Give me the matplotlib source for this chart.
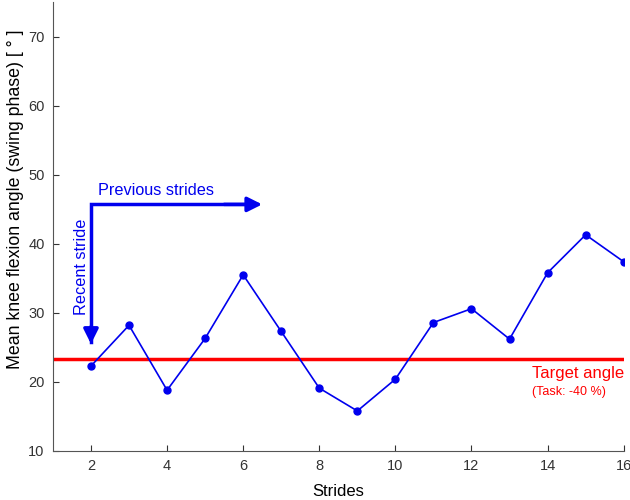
import numpy as np
import matplotlib.pyplot as plt

plt.rcParams['font.family'] = ['Liberation Sans', 'DejaVu Sans']

# data
strides = np.arange(2, 17)
angle = [22.3, 28.2, 18.8, 26.3, 35.5, 27.3, 19.1, 15.8, 20.4,
         28.6, 30.6, 26.2, 35.8, 41.3, 37.4]
target = 23.3
xticks = [2, 4, 6, 8, 10, 12, 14, 16]
yticks = [10, 20, 30, 40, 50, 60, 70]

fig = plt.figure(figsize=(6.3, 5), dpi=100)
ax = fig.add_axes([0.084, 0.098, 0.906, 0.898])

ax.axhline(target, color='#ff0000', lw=2.5, zorder=2)
ax.plot(strides, angle, color='#0000ee', lw=1.2, marker='o', ms=5, zorder=3)

# arrows
blue = '#0000ee'
ax.plot([2, 2, 6.0], [25.8, 45.7, 45.7], color=blue, lw=2.5, solid_joinstyle='miter')
ax.annotate('', xy=(6.5, 45.7), xytext=(5.5, 45.7),
            arrowprops=dict(arrowstyle='-|>', color=blue, lw=2.5,
                            mutation_scale=22, shrinkA=0, shrinkB=0))
ax.annotate('', xy=(2, 25.5), xytext=(2, 28),
            arrowprops=dict(arrowstyle='-|>', color=blue, lw=2.5,
                            mutation_scale=22, shrinkA=0, shrinkB=0))
ax.text(2.18, 46.6, 'Previous strides', color=blue, fontsize=11.7, ha='left', va='bottom')
ax.text(1.76, 36.6, 'Recent stride', color=blue, fontsize=11.7, rotation=90,
        ha='center', va='center')

ax.text(16, 21.2, 'Target angle', color='#ff0000', fontsize=12, ha='right', va='center')
ax.text(13.6, 18.6, '(Task: -40 %)', color='#ff0000', fontsize=9, ha='left', va='center')

ax.set_xlim(1, 16)
ax.set_ylim(10, 75)
ax.set_xticks(xticks)
ax.set_yticks(yticks)
ax.tick_params(direction='in', length=4, colors='#333333', labelsize=10.5, pad=6)
for s in ['top', 'right']:
    ax.spines[s].set_visible(False)
for s in ['left', 'bottom']:
    ax.spines[s].set_color('#555555')

ax.set_xlabel('Strides', fontsize=12, labelpad=8)
ax.set_ylabel('Mean knee flexion angle (swing phase) [ ° ]', fontsize=12.8)
ax.yaxis.set_label_coords(-0.05, 0.56)

fig.savefig('out.png', dpi=100)
